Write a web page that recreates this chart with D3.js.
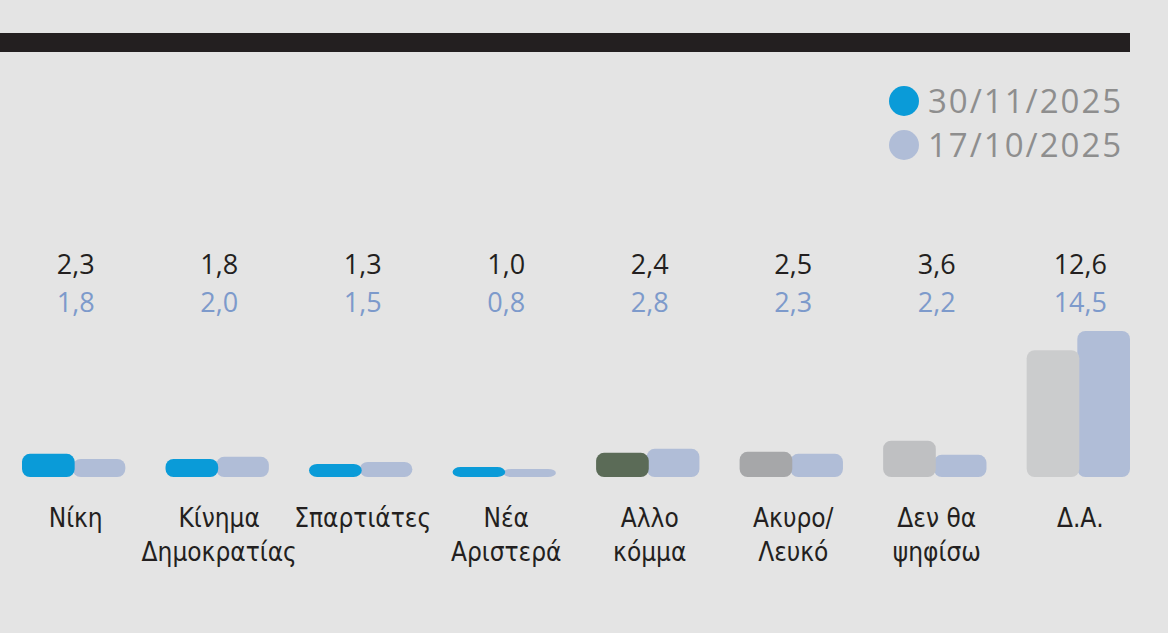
<!DOCTYPE html>
<html>
<head>
<meta charset="utf-8">
<script src="https://cdn.jsdelivr.net/npm/d3@7"></script>
<style>
  html, body { margin:0; padding:0; background:#e4e4e4; }
  svg { display:block; }
</style>
</head>
<body>
<div id="plot"></div>
<script>
// categories and values (two polls)
var categories = ['Νίκη','Κίνημα Δημοκρατίας','Σπαρτιάτες','Νέα Αριστερά','Αλλο κόμμα','Ακυρο/ Λευκό','Δεν θα ψηφίσω','Δ.Α.'];
var labelLines = [['Νίκη'],['Κίνημα','Δημοκρατίας'],['Σπαρτιάτες'],['Νέα','Αριστερά'],['Αλλο','κόμμα'],['Ακυρο/','Λευκό'],['Δεν θα','ψηφίσω'],['Δ.Α.']];
var current  = [2.3, 1.8, 1.3, 1.0, 2.4, 2.5, 3.6, 12.6];
var previous = [1.8, 2.0, 1.5, 0.8, 2.8, 2.3, 2.2, 14.5];
var seriesNames = ['30/11/2025','17/10/2025'];

var currentColors = ['#0a9bd8','#0a9bd8','#0a9bd8','#0a9bd8','#5b6b57','#a6a7a9','#bfc0c2','#cbcccd'];
var prevColor = '#b0bdd7';

var width = 1168, height = 633;

var svg = d3.select('#plot').append('svg')
    .attr('width', width)
    .attr('height', height);

// top black rule
svg.append('rect')
    .attr('x', 0).attr('y', 33)
    .attr('width', 1130).attr('height', 19)
    .attr('fill', '#231f20');

var x = d3.scaleBand()
    .domain(categories)
    .range([22, 1130])
    .paddingInner(0.28)
    .paddingOuter(0);

var y = d3.scaleLinear()
    .domain([0, 14.5])
    .range([477, 331]);

var half = x.bandwidth() / 2;

//previous poll bars (drawn first, current overlaps them)
svg.selectAll('.prev')
    .data(previous)
    .enter()
    .append('rect')
    .attr('class', 'prev')
    .attr('x', function(d, i){ return x(categories[i]) + half - 1; })
    .attr('y', function(d){ return y(d); })
    .attr('width', half + 1)
    .attr('height', function(d){ return y(0) - y(d); })
    .attr('rx', 8)
    .attr('fill', prevColor);

svg.selectAll('.cur')
    .data(current)
    .enter()
    .append('rect')
    .attr('class', 'cur')
    .attr('x', function(d, i){ return x(categories[i]); })
    .attr('y', function(d){ return y(d); })
    .attr('width', half + 1)
    .attr('height', function(d){ return y(0) - y(d); })
    .attr('rx', 8)
    .attr('fill', function(d, i){ return currentColors[i]; });

var fmt = function(v){ return d3.format('.1f')(v).replace('.', ','); };

// value labels
svg.selectAll('.vcur')
    .data(current)
    .enter()
    .append('text')
    .attr('x', function(d, i){ return x(categories[i]) + half + 2; })
    .attr('y', 274)
    .attr('text-anchor', 'middle')
    .attr('font-family', 'Open Sans, sans-serif')
    .attr('font-size', 27)
    .attr('font-weight', 500)
    .attr('fill', '#231f20')
    .text(fmt);

svg.selectAll('.vprev')
    .data(previous)
    .enter()
    .append('text')
    .attr('x', function(d, i){ return x(categories[i]) + half + 2; })
    .attr('y', 312)
    .attr('text-anchor', 'middle')
    .attr('font-family', 'Open Sans, sans-serif')
    .attr('font-size', 27)
    .attr('fill', '#7d9acb')
    .text(fmt);

// category labels
var cats = svg.selectAll('.cat')
    .data(labelLines)
    .enter()
    .append('text')
    .attr('class', 'cat')
    .attr('text-anchor', 'middle')
    .attr('font-family', 'DejaVu Sans Condensed, Liberation Sans Narrow, sans-serif')
    .attr('font-size', 26)
    .attr('fill', '#231f20')
    .attr('transform', function(d, i){ return 'translate(' + (x(categories[i]) + half + 2) + ',527)'; });

cats.selectAll('tspan')
    .data(function(d){ return d; })
    .enter()
    .append('tspan')
    .attr('x', 0)
    .attr('dy', function(d, j){ return j ? 34 : 0; })
    .text(function(d){ return d; });

// legend
var legend = svg.selectAll('.leg')
    .data(seriesNames)
    .enter()
    .append('g')
    .attr('transform', function(d, i){ return 'translate(904,' + (101 + i*44) + ')'; });

legend.append('circle')
    .attr('r', 15)
    .attr('fill', function(d, i){ return i ? prevColor : '#0a9bd8'; });

legend.append('text')
    .attr('x', 24)
    .attr('y', 12)
    .attr('font-family', 'Open Sans, sans-serif')
    .attr('font-size', 33)
    .attr('letter-spacing', 2)
    .attr('fill', '#8e8e8e')
    .text(function(d){ return d; });
</script>
</body>
</html>
